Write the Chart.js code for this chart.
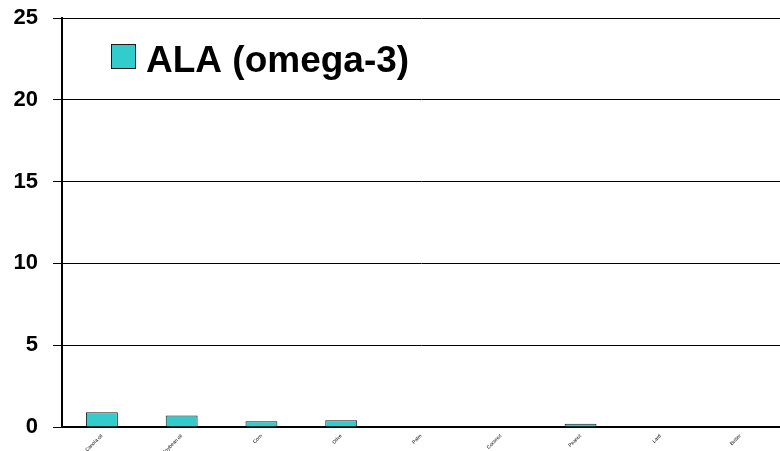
<!DOCTYPE html>
<html>
<head>
<meta charset="utf-8">
<script src="https://cdn.jsdelivr.net/npm/chart.js@4"></script>
<style>
  html, body { margin: 0; padding: 0; background: #fff; }
  #wrap { width: 780px; height: 451px; }
</style>
</head>
<body>
<div id="wrap"><canvas id="alaChart" width="780" height="451"></canvas></div>
<script>
// Chart: ALA (omega-3) content
const categories = ["Canola oil", "Soybean oil", "Corn", "Olive", "Palm", "Coconut", "Peanut", "Lard", "Butter"];
const alaValues = [0.9, 0.7, 0.35, 0.42, 0, 0, 0.2, 0, 0];
const yTicks = [0, 5, 10, 15, 20, 25];
const seriesName = 'ALA (omega-3)';

// legend drawn inside the plot, top left
const insideLegend = {
    id: 'insideLegend',
    afterDraw(chart) {
        const ctx = chart.ctx;
        ctx.save();
        ctx.fillStyle = '#33CCCC';
        ctx.strokeStyle = '#1a1a1a';
        ctx.lineWidth = 1;
        ctx.fillRect(111.5, 44.5, 24, 24);
        ctx.strokeRect(111.5, 44.5, 24, 24);
        ctx.fillStyle = '#000';
        ctx.font = 'bold 37px "Liberation Sans", Arial, sans-serif';
        ctx.textBaseline = 'alphabetic';
        ctx.fillText(seriesName, 146, 72);
        ctx.restore();
    }
};

const alaChart = new Chart(document.getElementById('alaChart'), {
    type: 'bar',
    data: {
        labels: categories,
        datasets: [
            {
                label: seriesName,
                data: alaValues,
                backgroundColor: '#33CCCC',
                borderColor: '#1a1a1a',
                borderWidth: 1,
                barPercentage: 0.8,
                categoryPercentage: 0.5,
            }
        ]
    },
    options: {
        responsive: false,
        animation: false,
        layout: { padding: { top: 18, right: 0, left: 0, bottom: 0 } },
        plugins: {
            legend: { display: false },
            tooltip: { enabled: false }
        },
        scales: {
            x: {
                grid: { display: false, drawTicks: false },
                border: { color: '#000', width: 2 },
                ticks: {
                    color: '#000',
                    font: { size: 5, family: 'Liberation Sans' },
                    maxRotation: 45,
                    minRotation: 45,
                    autoSkip: false,
                    padding: 6
                },
                afterFit(scale) { scale.height = 24; }
            },
            y: {
                min: 0,
                max: 25,
                afterBuildTicks(scale) { scale.ticks = yTicks.map(v => ({ value: v })); },
                grid: { color: '#000', lineWidth: 1, tickLength: 9 },
                border: { color: '#000', width: 2 },
                ticks: {
                    color: '#000',
                    font: { size: 22, weight: 'bold', family: 'Liberation Sans' },
                    padding: 15
                },
                afterFit(scale) {
                    scale.width = 62;
                    scale.paddingTop = 0;
                    scale.paddingBottom = 0;
                }
            }
        }
    },
    plugins: [insideLegend]
});
</script>
</body>
</html>
